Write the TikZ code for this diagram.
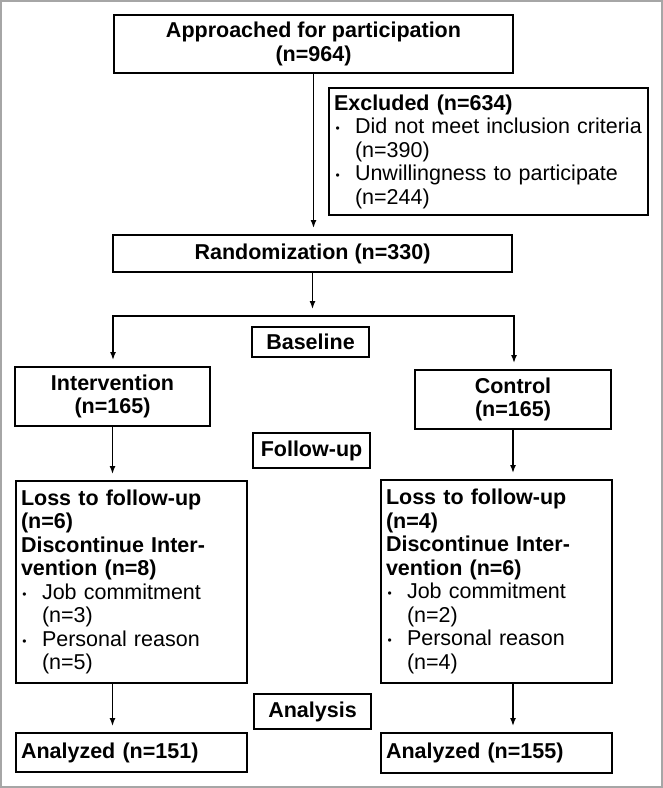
\documentclass[tikz,border=0pt]{standalone}
\usepackage{fontspec}
\setmainfont{Liberation Sans}
\usetikzlibrary{arrows.meta}

\newcommand{\blt}{\makebox[21pt][l]{\hspace{1.5pt}\raisebox{1pt}{\fontsize{12}{12}\selectfont\textbullet}}}
\newcommand{\ind}{\hspace*{21pt}}

\begin{document}
\begin{tikzpicture}[
    x=1pt, y=-1pt,
    >={Latex[length=8pt,width=6pt]},
    flow/.style={rectangle, draw=black, line width=2pt, inner sep=0pt, align=center, font=\bfseries\fontsize{21.5}{23.5}\selectfont},
    phase/.style={flow, minimum width=117pt, minimum height=33pt},
    list/.style={flow, align=left, inner xsep=5pt},
    link/.style={->, line width=1.5pt, shorten >=6pt}
  ]
    \useasboundingbox (0,0) rectangle (663,788);
    \draw[gray!70, line width=1.5pt] (1,1) rectangle (662,787);

    \node[flow, minimum width=399pt, minimum height=58pt] (appr) at (313.5, 44) {Approached for participation\\(n=964)};
    \node[list, minimum width=319pt, text width=309pt, minimum height=127pt] (excl) at (488.5, 151.5)
      {Excluded (n=634)\\
       \mdseries\blt Did not meet inclusion criteria\\
       \ind(n=390)\\
       \blt Unwillingness to participate\\
       \ind(n=244)};
    \node[flow, minimum width=399pt, minimum height=37pt] (rand) at (312.5, 253.5) {Randomization (n=330)};

    \node[phase, minimum height=30pt] (base) at (310.5, 342) {Baseline};
    \node[flow, minimum width=195pt, minimum height=59pt] (interv) at (112.5, 396.5) {Intervention\\(n=165)};
    \node[flow, minimum width=196pt, minimum height=59pt] (ctrl) at (513, 399.5) {Control\\(n=165)};

    \node[phase, minimum height=35pt] (follow) at (311.5, 450.5) {Follow-up};
    \node[list, minimum width=231pt, text width=221pt, minimum height=202pt] (lossL) at (131.5, 582)
      {Loss to follow-up\\
       (n=6)\\
       Discontinue Inter-\\
       vention (n=8)\\
       \mdseries\blt Job commitment\\
       \ind(n=3)\\
       \blt Personal reason\\
       \ind(n=5)};
    \node[list, minimum width=231pt, text width=221pt, minimum height=203pt] (lossR) at (496.5, 581.5)
      {Loss to follow-up\\
       (n=4)\\
       Discontinue Inter-\\
       vention (n=6)\\
       \mdseries\blt Job commitment\\
       \ind(n=2)\\
       \blt Personal reason\\
       \ind(n=4)};

    \node[phase, minimum height=35pt] (anal) at (312.5, 711.5) {Analysis};
    \node[list, minimum width=231pt, text width=221pt, minimum height=39pt] (anaL) at (131.5, 752.5) {Analyzed (n=151)};
    \node[list, minimum width=231pt, text width=221pt, minimum height=40pt] (anaR) at (496.5, 753) {Analyzed (n=155)};

    \coordinate (split) at (312.5, 316);
    \coordinate (splitL) at (113, 316);
    \coordinate (splitR) at (514, 316);

    \draw[link] (appr.south) -- (appr.south |- rand.north);
    \draw[link, shorten >=7pt] (rand.south) -- (split);
    \draw[link] (splitR) -- (splitL) -- (splitL |- interv.north);
    \draw[link] (splitL) -- (splitR) -- (splitR |- ctrl.north);
    \draw[link] (interv.south) -- (interv.south |- lossL.north);
    \draw[link] (ctrl.south) -- (ctrl.south |- lossR.north);
    \draw[link] (lossL.south -| interv) -- (anaL.north -| interv);
    \draw[link] (lossR.south -| ctrl) -- (anaR.north -| ctrl);

  \end{tikzpicture}
\end{document}
